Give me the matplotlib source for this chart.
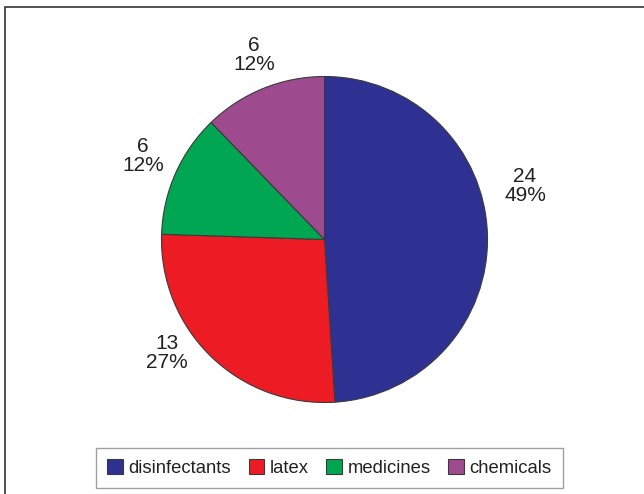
import matplotlib
matplotlib.use('Agg')
import matplotlib.pyplot as plt
from matplotlib.patches import Rectangle

# Data
categories = ["disinfectants", "latex", "medicines", "chemicals"]
counts = [24, 13, 6, 6]
colors = ["#2E3192", "#ED1C24", "#00A651", "#9E4A8E"]
# label centres in pixel coords (x from left, y from top)
label_pos = [(525, 186), (167, 353), (143, 156), (254, 55)]

W, H = 644, 494
plt.rcParams['font.family'] = ['Liberation Sans', 'DejaVu Sans']

fig = plt.figure(figsize=(W / 100, H / 100), dpi=100)
ax = fig.add_axes([0, 0, 1, 1])

# outer frame
ax.add_patch(Rectangle((5, -20), W + 30, H - 7 + 20, fill=False,
                       edgecolor="#333333", linewidth=1.2))

cx, cy, r = 324.5, H - 239.5, 163
wedges, _ = ax.pie(counts, colors=colors, startangle=90, counterclock=False,
                   center=(cx, cy), radius=r, frame=True,
                   wedgeprops=dict(edgecolor="#3a3a3a", linewidth=0.8))
ax.set_xlim(0, W)
ax.set_ylim(0, H)
ax.set_aspect('equal')
ax.axis('off')

total = sum(counts)
for v, (lx, ly) in zip(counts, label_pos):
    pct = round(v / total * 100)
    ax.text(lx, H - ly, f"{v}\n{pct}%", ha="center", va="center",
            fontsize=15, color="#222222", linespacing=1.05)

leg = ax.legend(wedges, categories, loc="center", bbox_to_anchor=(329.5, H - 468),
                bbox_transform=ax.transData, ncol=4, fontsize=13.3,
                frameon=True, fancybox=False, edgecolor="#888888",
                handlelength=0.85, handleheight=0.85, handletextpad=0.3,
                columnspacing=0.95, borderpad=0.6)
leg.get_frame().set_linewidth(1.0)
for t in leg.get_texts():
    t.set_color("#222222")

fig.savefig("out.png", dpi=100)
